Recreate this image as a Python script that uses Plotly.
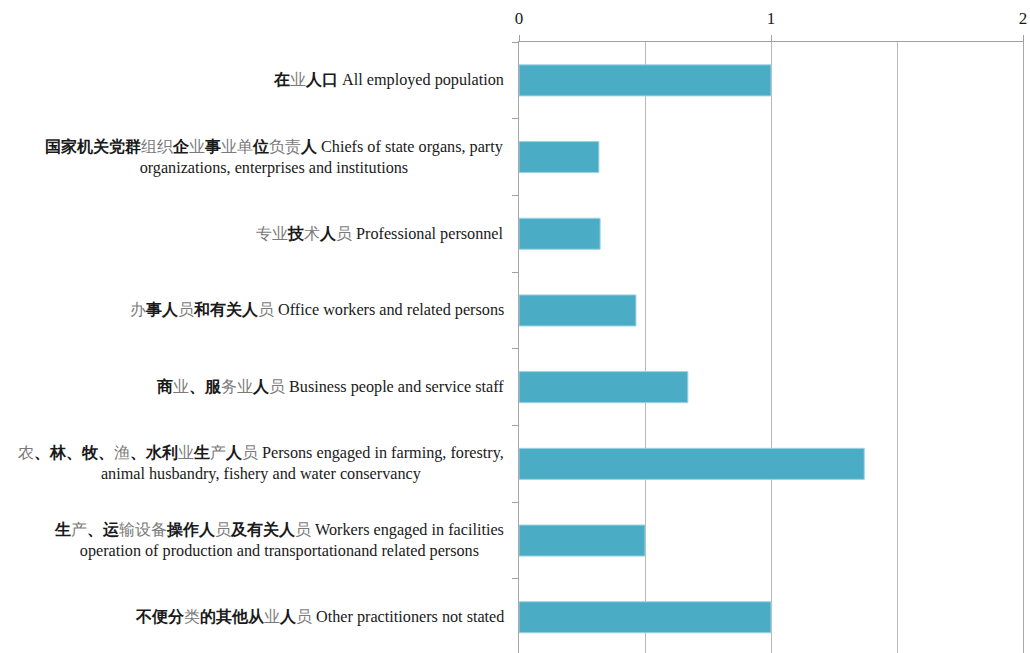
import plotly.graph_objects as go

categories = [
    "在业人口 All employed population",
    "国家机关党群组织企业事业单位负责人 Chiefs of state organs, party<br>organizations, enterprises and institutions",
    "专业技术人员 Professional personnel",
    "办事人员和有关人员 Office workers and related persons",
    "商业、服务业人员 Business people and service staff",
    "农、林、牧、渔、水利业生产人员 Persons engaged in farming, forestry,<br>animal husbandry, fishery and water conservancy",
    "生产、运输设备操作人员及有关人员 Workers engaged in facilities<br>operation of production and transportationand related persons",
    "不便分类的其他从业人员 Other practitioners not stated",
]
values = [1.0, 0.317, 0.322, 0.464, 0.67, 1.37, 0.5, 1.0]
x_ticks = [0, 1, 2]

# CJK glyphs that render in a lighter (gray, thin) face in the reference
light_chars = set("业组织单负责专术员办务农渔产输设备类")

SERIF = "Liberation Serif"


def style_label(text):
    out = []
    for ch in text:
        if "\u4e00" <= ch <= "\u9fff" or ch == "、":
            if ch in light_chars:
                out.append(f"<span style='color:#7a7a7a'>{ch}</span>")
            else:
                out.append(f"<b>{ch}</b>")
        else:
            out.append(ch)
    return "".join(out)


fig = go.Figure(
    go.Bar(
        x=values,
        y=categories,
        orientation="h",
        marker=dict(color="#4BACC6", line=dict(color="#9fd3e2", width=1)),
        hoverinfo="x+y",
    )
)

for cat in categories:
    fig.add_annotation(
        x=0, xref="paper", y=cat, yref="y",
        text=style_label(cat),
        xanchor="right", yanchor="middle", align="center",
        xshift=-13, showarrow=False,
        font=dict(family=SERIF, size=16.2, color="#1a1a1a"),
    )

fig.update_layout(
    width=1030, height=653,
    margin=dict(l=519, r=7, t=42, b=0, autoexpand=False),
    paper_bgcolor="white", plot_bgcolor="white",
    bargap=0.595,
    showlegend=False,
    font=dict(family=SERIF, size=16.2, color="#1a1a1a"),
)
fig.update_xaxes(
    side="top", range=[0, 2], tickvals=x_ticks, ticktext=[str(v) for v in x_ticks],
    showgrid=True, gridcolor="#b8b8b8", gridwidth=1,
    minor=dict(dtick=0.5, showgrid=True, gridcolor="#b8b8b8", gridwidth=1),
    showline=True, linecolor="#a0a0a0", linewidth=1,
    ticks="outside", ticklen=6, tickcolor="#a0a0a0",
    ticklabelstandoff=4,
    zeroline=False, fixedrange=True, automargin=False,
    tickfont=dict(family=SERIF, size=17, color="#1a1a1a"),
)
fig.update_yaxes(
    type="category", categoryorder="array", categoryarray=categories,
    range=[7.466, -0.5],
    showticklabels=False, showgrid=False,
    showline=True, linecolor="#a8a8a8", linewidth=1, mirror=True,
    ticks="outside", ticklen=6, tickcolor="#a0a0a0", tickson="boundaries",
    zeroline=False, automargin=False,
)

fig.write_html(
    "out.html",
    config={"displayModeBar": False},
    post_script="document.body.style.margin='0';document.body.style.overflow='hidden';",
)
